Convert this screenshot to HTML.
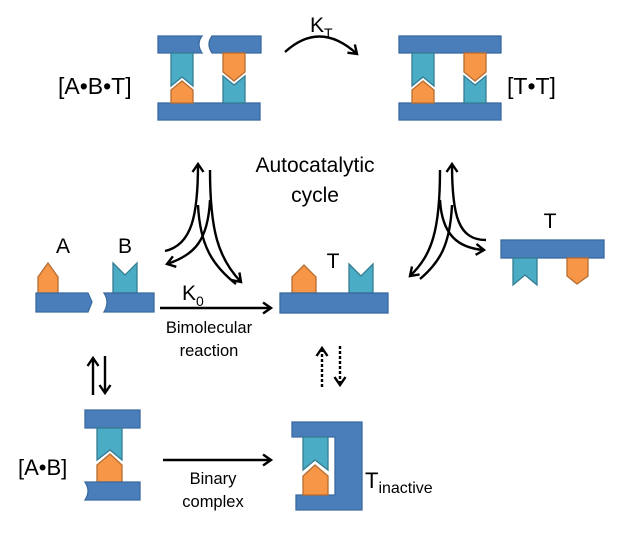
<!DOCTYPE html>
<html><head><style>body{margin:0;background:#fff}svg{display:block}text{font-family:"Liberation Sans",sans-serif;fill:#000}</style></head><body>
<svg width="623" height="539" viewBox="0 0 623 539" xmlns="http://www.w3.org/2000/svg">
<defs>
<marker id="ah" markerWidth="14" markerHeight="14" refX="10" refY="7" orient="auto" markerUnits="userSpaceOnUse"><path d="M2,1.5 L10,7 L2,12.5" fill="none" stroke="#000" stroke-width="2.4"/></marker>
</defs>
<g stroke-width="1.3">
<!-- ABT -->
<path d="M158,36 H202 Q196,44 202,53 H158Z" fill="#4a7ebb" stroke="#3b6aa0"/>
<path d="M212,36 H261 V53 H212 Q206,44 212,36Z" fill="#4a7ebb" stroke="#3b6aa0"/>
<rect x="158" y="103" width="102" height="17" fill="#4a7ebb" stroke="#3b6aa0"/>
<path d="M171,53 H193 V86 L182,77 L171,86Z" fill="#4bacc6" stroke="#357d91"/>
<path d="M171,103 V90 L182,81 L193,90 V103Z" fill="#f79646" stroke="#b66d31"/>
<path d="M223,53 H245 V72 L234,81 L223,72Z" fill="#f79646" stroke="#b66d31"/>
<path d="M223,103 V76 L234,85 L245,76 V103Z" fill="#4bacc6" stroke="#357d91"/>
<!-- TT -->
<rect x="399" y="36" width="102" height="17" fill="#4a7ebb" stroke="#3b6aa0"/>
<rect x="399" y="103" width="102" height="17" fill="#4a7ebb" stroke="#3b6aa0"/>
<path d="M412,53 H434 V86 L423,77 L412,86Z" fill="#4bacc6" stroke="#357d91"/>
<path d="M412,103 V90 L423,81 L434,90 V103Z" fill="#f79646" stroke="#b66d31"/>
<path d="M464,53 H486 V72 L475,81 L464,72Z" fill="#f79646" stroke="#b66d31"/>
<path d="M464,103 V76 L475,85 L486,76 V103Z" fill="#4bacc6" stroke="#357d91"/>
<!-- A B -->
<path d="M38,293 V277 L48,263 L58,277 V293Z" fill="#f79646" stroke="#b66d31"/>
<path d="M36,293 H88 L92,302 L88,312 H36Z" fill="#4a7ebb" stroke="#3b6aa0"/>
<path d="M113,293 V263 L125,275 L137,263 V293Z" fill="#4bacc6" stroke="#357d91"/>
<path d="M104,293 H154 V312 H104 Q110,302 104,293Z" fill="#4a7ebb" stroke="#3b6aa0"/>
<!-- T mid -->
<path d="M292,293 V277 L304,265 L316,277 V293Z" fill="#f79646" stroke="#b66d31"/>
<path d="M349,293 V264 L361,276 L373,264 V293Z" fill="#4bacc6" stroke="#357d91"/>
<rect x="280" y="293" width="108" height="20" fill="#4a7ebb" stroke="#3b6aa0"/>
<!-- T right -->
<rect x="501" y="240" width="103" height="18" fill="#4a7ebb" stroke="#3b6aa0"/>
<path d="M513,258 H537 V285 L525,275 L513,285Z" fill="#4bacc6" stroke="#357d91"/>
<path d="M567,258 H588 V276 L577,284 L567,276Z" fill="#f79646" stroke="#b66d31"/>
<!-- AB complex -->
<path d="M85,410 H140 V428 H85Z" fill="#4a7ebb" stroke="#3b6aa0"/>
<path d="M97,428 H122 V460 L110,450 L97,460Z" fill="#4bacc6" stroke="#357d91"/>
<path d="M97,482 V465 L110,454 L122,465 V482Z" fill="#f79646" stroke="#b66d31"/>
<path d="M85,482 H140 V500 H85 Q91,491 85,482Z" fill="#4a7ebb" stroke="#3b6aa0"/>
<!-- T inactive -->
<path d="M292,422 H362 V510 H296 V495 H335 V437 H292Z" fill="#4a7ebb" stroke="#3b6aa0"/>
<path d="M303,437 H328 V470 L315,460 L303,470Z" fill="#4bacc6" stroke="#357d91"/>
<path d="M303,495 V476 L315,465 L328,476 V495Z" fill="#f79646" stroke="#b66d31"/>
</g>
<g fill="none" stroke="#000" stroke-width="2.4">
<path d="M285,52 Q320,20 357,54" marker-end="url(#ah)"/>
<path d="M160,308 H271" marker-end="url(#ah)"/>
<path d="M163,460 H271" marker-end="url(#ah)"/>
<path d="M93,395 V358" marker-end="url(#ah)"/>
<path d="M105,356 V393" marker-end="url(#ah)"/>
<path d="M322,387 V348" stroke-dasharray="3,2" marker-end="url(#ah)"/>
<path d="M340,346 V385" stroke-dasharray="3,2" marker-end="url(#ah)"/>
<!-- left cluster -->
<path d="M165,251 C192,245 198,215 198,164" marker-end="url(#ah)"/>
<path d="M210,170 C210,230 218,258 241,282" marker-end="url(#ah)"/>
<path d="M210,200 C208,240 195,255 167,264" marker-end="url(#ah)"/>
<path d="M198,205 C200,245 212,265 236,284"/>
<!-- right cluster -->
<path d="M486,240 C458,240 452,215 452,164" marker-end="url(#ah)"/>
<path d="M440,170 C440,230 432,255 410,276" marker-end="url(#ah)"/>
<path d="M440,200 C442,235 458,248 484,250" marker-end="url(#ah)"/>
<path d="M452,205 C450,245 440,262 420,279"/>
</g>
<g font-size="21">
<text x="310" y="32" font-size="21">K<tspan font-size="14" dy="6">T</tspan></text>
<text x="58" y="94" font-size="23">[A•B•T]</text>
<text x="507" y="94" font-size="23">[T•T]</text>
<text x="315" y="172" text-anchor="middle">Autocatalytic</text>
<text x="315" y="202" text-anchor="middle">cycle</text>
<text x="63" y="253" text-anchor="middle">A</text>
<text x="125" y="253" text-anchor="middle">B</text>
<text x="333" y="268" text-anchor="middle">T</text>
<text x="550" y="228" text-anchor="middle">T</text>
<text x="182" y="300">K<tspan font-size="14" dy="6">0</tspan></text>
<text x="18" y="475" font-size="22">[A•B]</text>
<text x="365" y="488" font-size="22">T<tspan font-size="16" dy="5">inactive</tspan></text>
</g>
<g font-size="16.5" text-anchor="middle">
<text x="209" y="333">Bimolecular</text>
<text x="209" y="356">reaction</text>
<text x="213" y="484">Binary</text>
<text x="213" y="507">complex</text>
</g>
</svg>
</body></html>
